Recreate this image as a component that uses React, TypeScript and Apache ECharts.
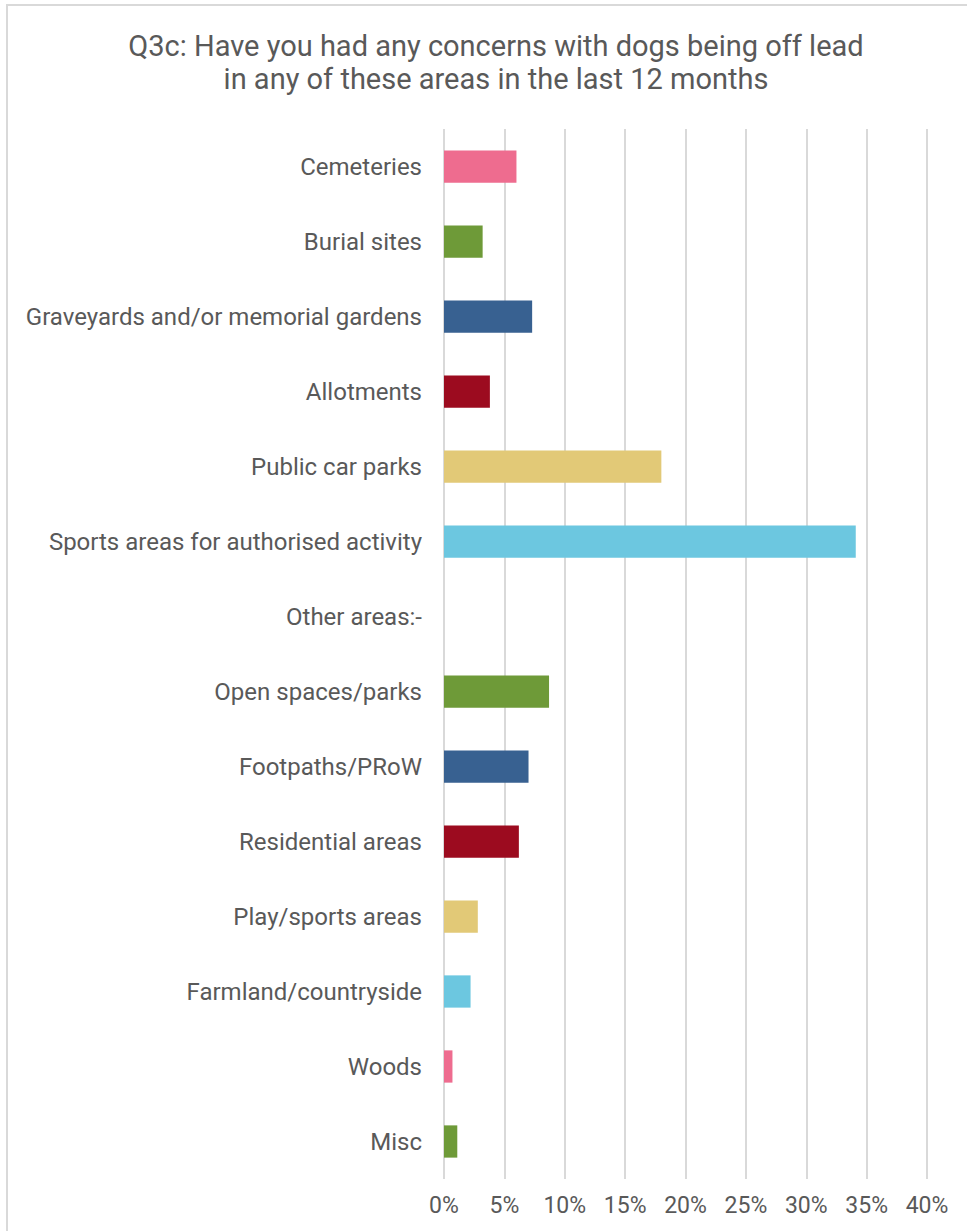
import React, { useEffect, useRef } from "react";
import * as echarts from "echarts";

const categories = [
  "Cemeteries",
  "Burial sites",
  "Graveyards and/or memorial gardens",
  "Allotments",
  "Public car parks",
  "Sports areas for authorised activity",
  "Other areas:-",
  "Open spaces/parks",
  "Footpaths/PRoW",
  "Residential areas",
  "Play/sports areas",
  "Farmland/countryside",
  "Woods",
  "Misc",
];

const values: (number | null)[] = [6.0, 3.2, 7.3, 3.8, 18.0, 34.1, null, 8.7, 7.0, 6.2, 2.8, 2.2, 0.7, 1.1];

const palette = ["#EE6C8F", "#6E9A38", "#386191", "#9C0B1F", "#E2C977", "#6CC7E0"];

const tickValues = [0, 5, 10, 15, 20, 25, 30, 35, 40];

const titleText = "Q3c: Have you had any concerns with dogs being off lead\nin any of these areas in the last 12 months";

export default function App() {
  const ref = useRef<HTMLDivElement>(null);
  useEffect(() => {
    if (!ref.current) return;
    const chart = echarts.init(ref.current, null, { renderer: "svg" });
    const font = "Roboto, 'Noto Sans', sans-serif";
    chart.setOption({
      animation: false,
      backgroundColor: "#ffffff",
      title: {
        text: titleText,
        left: 491,
        textAlign: "center",
        top: 24,
        textStyle: {
          fontFamily: font,
          fontSize: 29,
          fontWeight: "normal",
          color: "#595959",
          lineHeight: 33,
        },
      },
      graphic: [
        {
          type: "polyline",
          shape: { points: [[7, 1231], [7, 5], [967, 5]] },
          style: { stroke: "#d9d9d9", lineWidth: 2, fill: "none" },
          silent: true,
        },
      ],
      grid: { left: 444, right: 40, top: 129, bottom: 52, containLabel: false },
      xAxis: {
        type: "value",
        min: 0,
        max: tickValues[tickValues.length - 1],
        interval: 5,
        axisLine: { show: false },
        axisTick: { show: false },
        splitLine: { show: true, lineStyle: { color: "#d9d9d9", width: 2 } },
        axisLabel: {
          formatter: (v: number) => v + "%",
          fontFamily: font,
          fontSize: 23,
          color: "#595959",
          margin: 15,
        },
      },
      yAxis: {
        type: "category",
        data: categories,
        inverse: true,
        axisLine: { show: false },
        axisTick: { show: false },
        axisLabel: {
          fontFamily: font,
          fontSize: 24,
          color: "#595959",
          margin: 22,
        },
      },
      series: [
        {
          type: "bar",
          data: values.map((v, i) => ({
            value: v,
            itemStyle: { color: palette[i % palette.length] },
          })),
          barCategoryGap: "57%",
        },
      ],
    });
    return () => chart.dispose();
  }, []);
  return (
    <div
      ref={ref}
      style={{ position: "absolute", left: 0, top: 0, width: 967, height: 1231 }}
    />
  );
}
